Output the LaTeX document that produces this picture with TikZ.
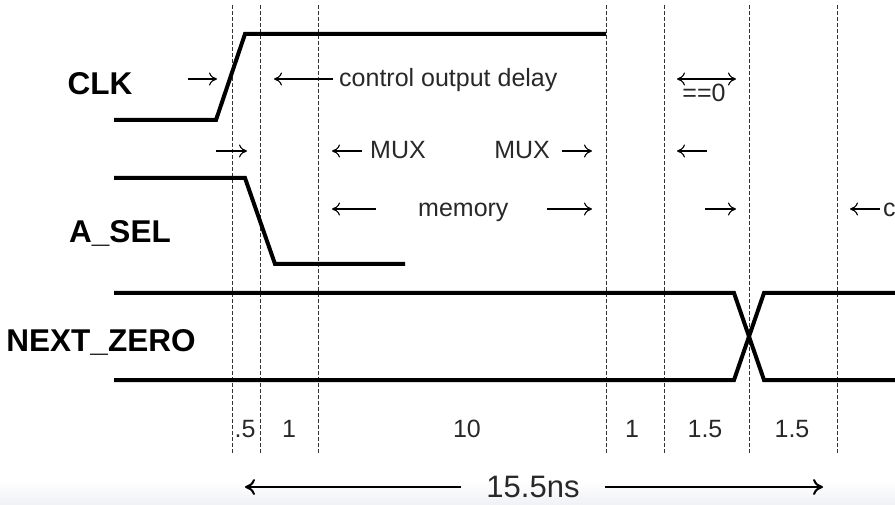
\documentclass[tikz,border=0pt]{standalone}
\usepackage{fontspec}
\setmainfont{Liberation Sans}
\usetikzlibrary{arrows.meta}

\definecolor{bandgray}{RGB}{240,241,246}
\definecolor{textgray}{RGB}{40,40,40}

\tikzset{
	signal/.style={line width=4pt, line join=miter},
	grid/.style={line width=0.9pt, dash pattern=on 4pt off 2pt, black!80},
	delay/.style={line width=1.1pt, -{To[length=8pt,width=13pt]}},
	total/.style={line width=2pt, -{To[length=10pt,width=16pt]}},
	small/.style={inner sep=0pt, text=textgray, font=\fontsize{25}{30}\selectfont},
	siglabel/.style={inner sep=0pt, anchor=base, font=\fontsize{31.5}{36}\selectfont\bfseries}
}

\begin{document}
\begin{tikzpicture}[x=1pt, y=-1pt]
	
	\useasboundingbox (0,0) rectangle (895,505);
	
	% ---- Page band at the bottom ----
	\shade[top color=white, bottom color=bandgray] (0,481) rectangle (895,505);
	
	% ---- Dashed time markers ----
	\foreach \x in {232,260,318,606,664,749,837}
	\draw[grid] (\x,5) -- (\x,453);
	
	% ---- Waveforms ----
	\draw[signal] (114,120) -- (216,120) -- (245,34) -- (606,34);
	\draw[signal] (114,178) -- (245,178) -- (275,264) -- (405,264);
	\draw[signal] (114,293) -- (734,293) -- (764,380) -- (895,380);
	\draw[signal] (114,380) -- (734,380) -- (764,293) -- (895,293);
	
	% ---- Signal labels ----
	\node[siglabel] (clk) at (100,95) {CLK};
	\node[siglabel] (asel) at (120,243) {A\_SEL};
	\node[siglabel] (nzero) at (101,352) {NEXT\_ZERO};
	
	% ---- Delay texts ----
	\node[small, anchor=base west] (ctrl) at (339,87) {control output delay};
	\node[small, anchor=base west] (muxL) at (370,159) {MUX};
	\node[small, anchor=base east] (muxR) at (550,159) {MUX};
	\node[small, anchor=base west] (mem) at (418,217) {memory};
	\node[small, anchor=base west] (cmp) at (883,217) {c};
	\node[small, anchor=base] (eqz) at (704,102) {==0};
	
	% ---- Delay arrows (tip at the end) ----
	\foreach \n/\xa/\xb/\y in {
		clk/188/217/79,
		ctrl/333/274/79,
		sel/216/247/151,
		muxL/362/332/151,
		muxR/562/592/151,
		zero/707/677/151,
		memL/376/332/209,
		memR/547/592/209,
		nzero/705/736/209,
		cmp/880/850/209
	}
	{
		\coordinate (\n s) at (\xa,\y);
		\coordinate (\n e) at (\xb,\y);
		\draw[delay] (\n s) -- (\n e);
	}
	
	% ---- Compare arrow ----
	\coordinate (eqzL) at (677,79);
	\coordinate (eqzR) at (736,79);
	\draw[delay, {To[length=8pt,width=13pt]}-{To[length=8pt,width=13pt]}] (eqzL) -- (eqzR);
	
	% ---- Step times ----
	\foreach \x/\t [count=\k] in {245/.5, 289/1, 467/10, 632/1, 705/1.5, 792/1.5}
	\node[small, anchor=base] (t\k) at (\x,437) {\t};
	
	% ---- Total time ----
	\node[small, font=\fontsize{31}{36}\selectfont] (sum) at (533,487) {15.5ns};
	\coordinate (sumL) at (245,487);
	\coordinate (sumR) at (823,487);
	\draw[total] ([xshift=-25pt]sum.west) -- (sumL);
	\draw[total] ([xshift=25pt]sum.east) -- (sumR);
	
\end{tikzpicture}
\end{document}
